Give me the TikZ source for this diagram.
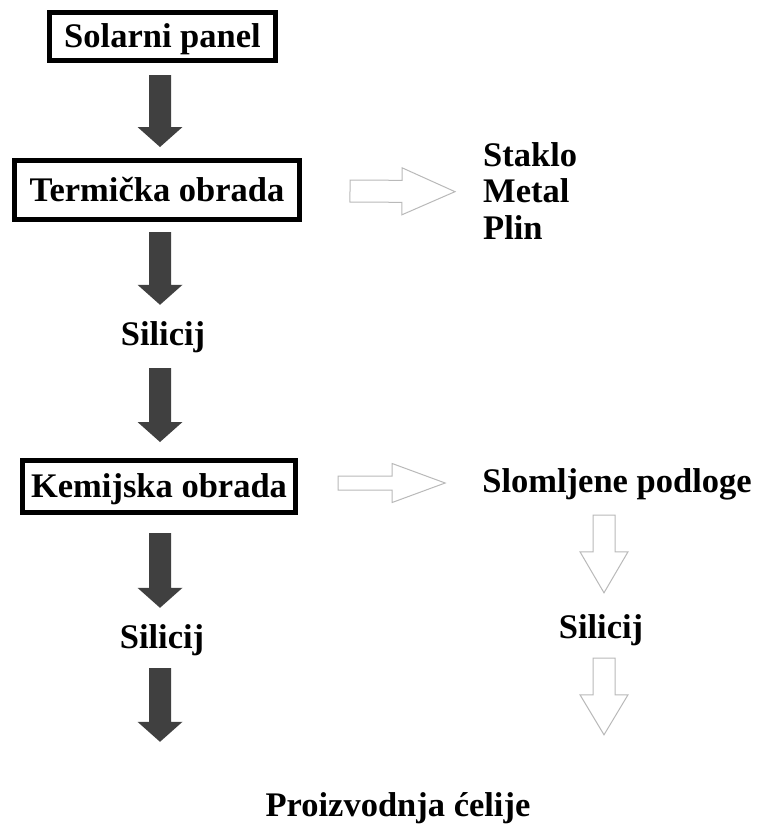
\documentclass[tikz,border=0pt]{standalone}
\usepackage{fontspec}
\setmainfont{Liberation Serif}
\usepackage{tikz}
\usetikzlibrary{calc}
\pgfdeclarelayer{nodelayer}
\pgfdeclarelayer{edgelayer}
\pgfsetlayers{edgelayer,nodelayer,main}
\definecolor{arrowdark}{RGB}{64,64,64}
\definecolor{arrowlight}{RGB}{185,185,185}
\tikzset{shaft/.store in=\arrowshaft, head/.store in=\arrowhead, tip/.store in=\arrowtip,
	shaft=11pt, head=22.5pt, tip=20pt}
\tikzstyle{every node}=[font=\fontsize{34.5}{36.5}\selectfont\bfseries]
\tikzstyle{box}=[fill=white, draw=black, shape=rectangle, line width=5pt, inner sep=0pt, text height=29pt, text depth=7pt]
\tikzstyle{item}=[shape=rectangle, inner sep=0pt, text height=29pt, text depth=7pt]
\tikzstyle{block arrow}=[to path={($(\tikztostart)!\arrowshaft!90:(\tikztotarget)$)
	-- ($(\tikztotarget)!\arrowtip!(\tikztostart)!\arrowshaft!-90:(\tikztostart)$)
	-- ($(\tikztotarget)!\arrowtip!(\tikztostart)!\arrowhead!-90:(\tikztostart)$)
	-- (\tikztotarget)
	-- ($(\tikztotarget)!\arrowtip!(\tikztostart)!\arrowhead!90:(\tikztostart)$)
	-- ($(\tikztotarget)!\arrowtip!(\tikztostart)!\arrowshaft!90:(\tikztostart)$)
	-- ($(\tikztostart)!\arrowshaft!-90:(\tikztotarget)$) -- cycle}]
\tikzstyle{dark arrow}=[block arrow, fill=arrowdark, draw=none]
\tikzstyle{light arrow}=[block arrow, fill=white, draw=arrowlight, line width=1pt, line join=miter]

\begin{document}
\begin{tikzpicture}[x=1pt, y=-1pt]
	\useasboundingbox (0,0) rectangle (758,827);
	\begin{pgfonlayer}{nodelayer}
		\node [style=box, minimum width=226pt, minimum height=48pt] (0) at (162.5, 36.5) {Solarni panel};
		\node [style=box, minimum width=285pt, minimum height=59pt] (1) at (157, 190) {Termička obrada};
		\node [style=item] (2) at (163, 334) {Silicij};
		\node [style=box, minimum width=273pt, minimum height=52pt] (3) at (159, 486.5) {Kemijska obrada};
		\node [style=item] (4) at (162, 637) {Silicij};
		\node [style=item] (5) at (398, 805) {Proizvodnja ćelije};
		\node [anchor=north west, align=left, inner sep=0pt] (6) at (483, 142) {Staklo\\Metal\\Plin};
		\node [style=item] (7) at (617, 481) {Slomljene podloge};
		\node [style=item] (8) at (601, 627) {Silicij};
	\end{pgfonlayer}
	\begin{pgfonlayer}{edgelayer}
		\draw [style=dark arrow] ([shift={(-2.5,12)}]0.south) to ([shift={(3,-11)}]1.north);
		\draw [style=dark arrow] ([shift={(3,10)}]1.south) to ([shift={(-3,-11)}]2.north);
		\draw [style=dark arrow] ([shift={(-3,16)}]2.south) to ([shift={(1,-16)}]3.north);
		\draw [style=dark arrow] ([shift={(1,18)}]3.south) to ([shift={(-2,-11)}]4.north);
		\draw [style=dark arrow] ([shift={(-2,13)}]4.south) to ([shift={(-238,-45)}]5.north);
		\draw [style=light arrow, shaft=11pt, head=23.5pt, tip=53pt] ([shift={(48,1)}]1.east) to ([shift={(-28,1)}]6.west);
		\draw [style=light arrow, shaft=7pt, head=19.5pt, tip=53pt] ([shift={(40,-3.5)}]3.east) to ([shift={(-37,2)}]7.west);
		\draw [style=light arrow, shaft=11pt, head=24pt, tip=41pt] ([shift={(-13,16)}]7.south) to ([shift={(3,-16)}]8.north);
		\draw [style=light arrow, shaft=11pt, head=24pt, tip=40pt] ([shift={(3,13)}]8.south) to ([shift={(206,-52)}]5.north);
	\end{pgfonlayer}
\end{tikzpicture}
\end{document}
